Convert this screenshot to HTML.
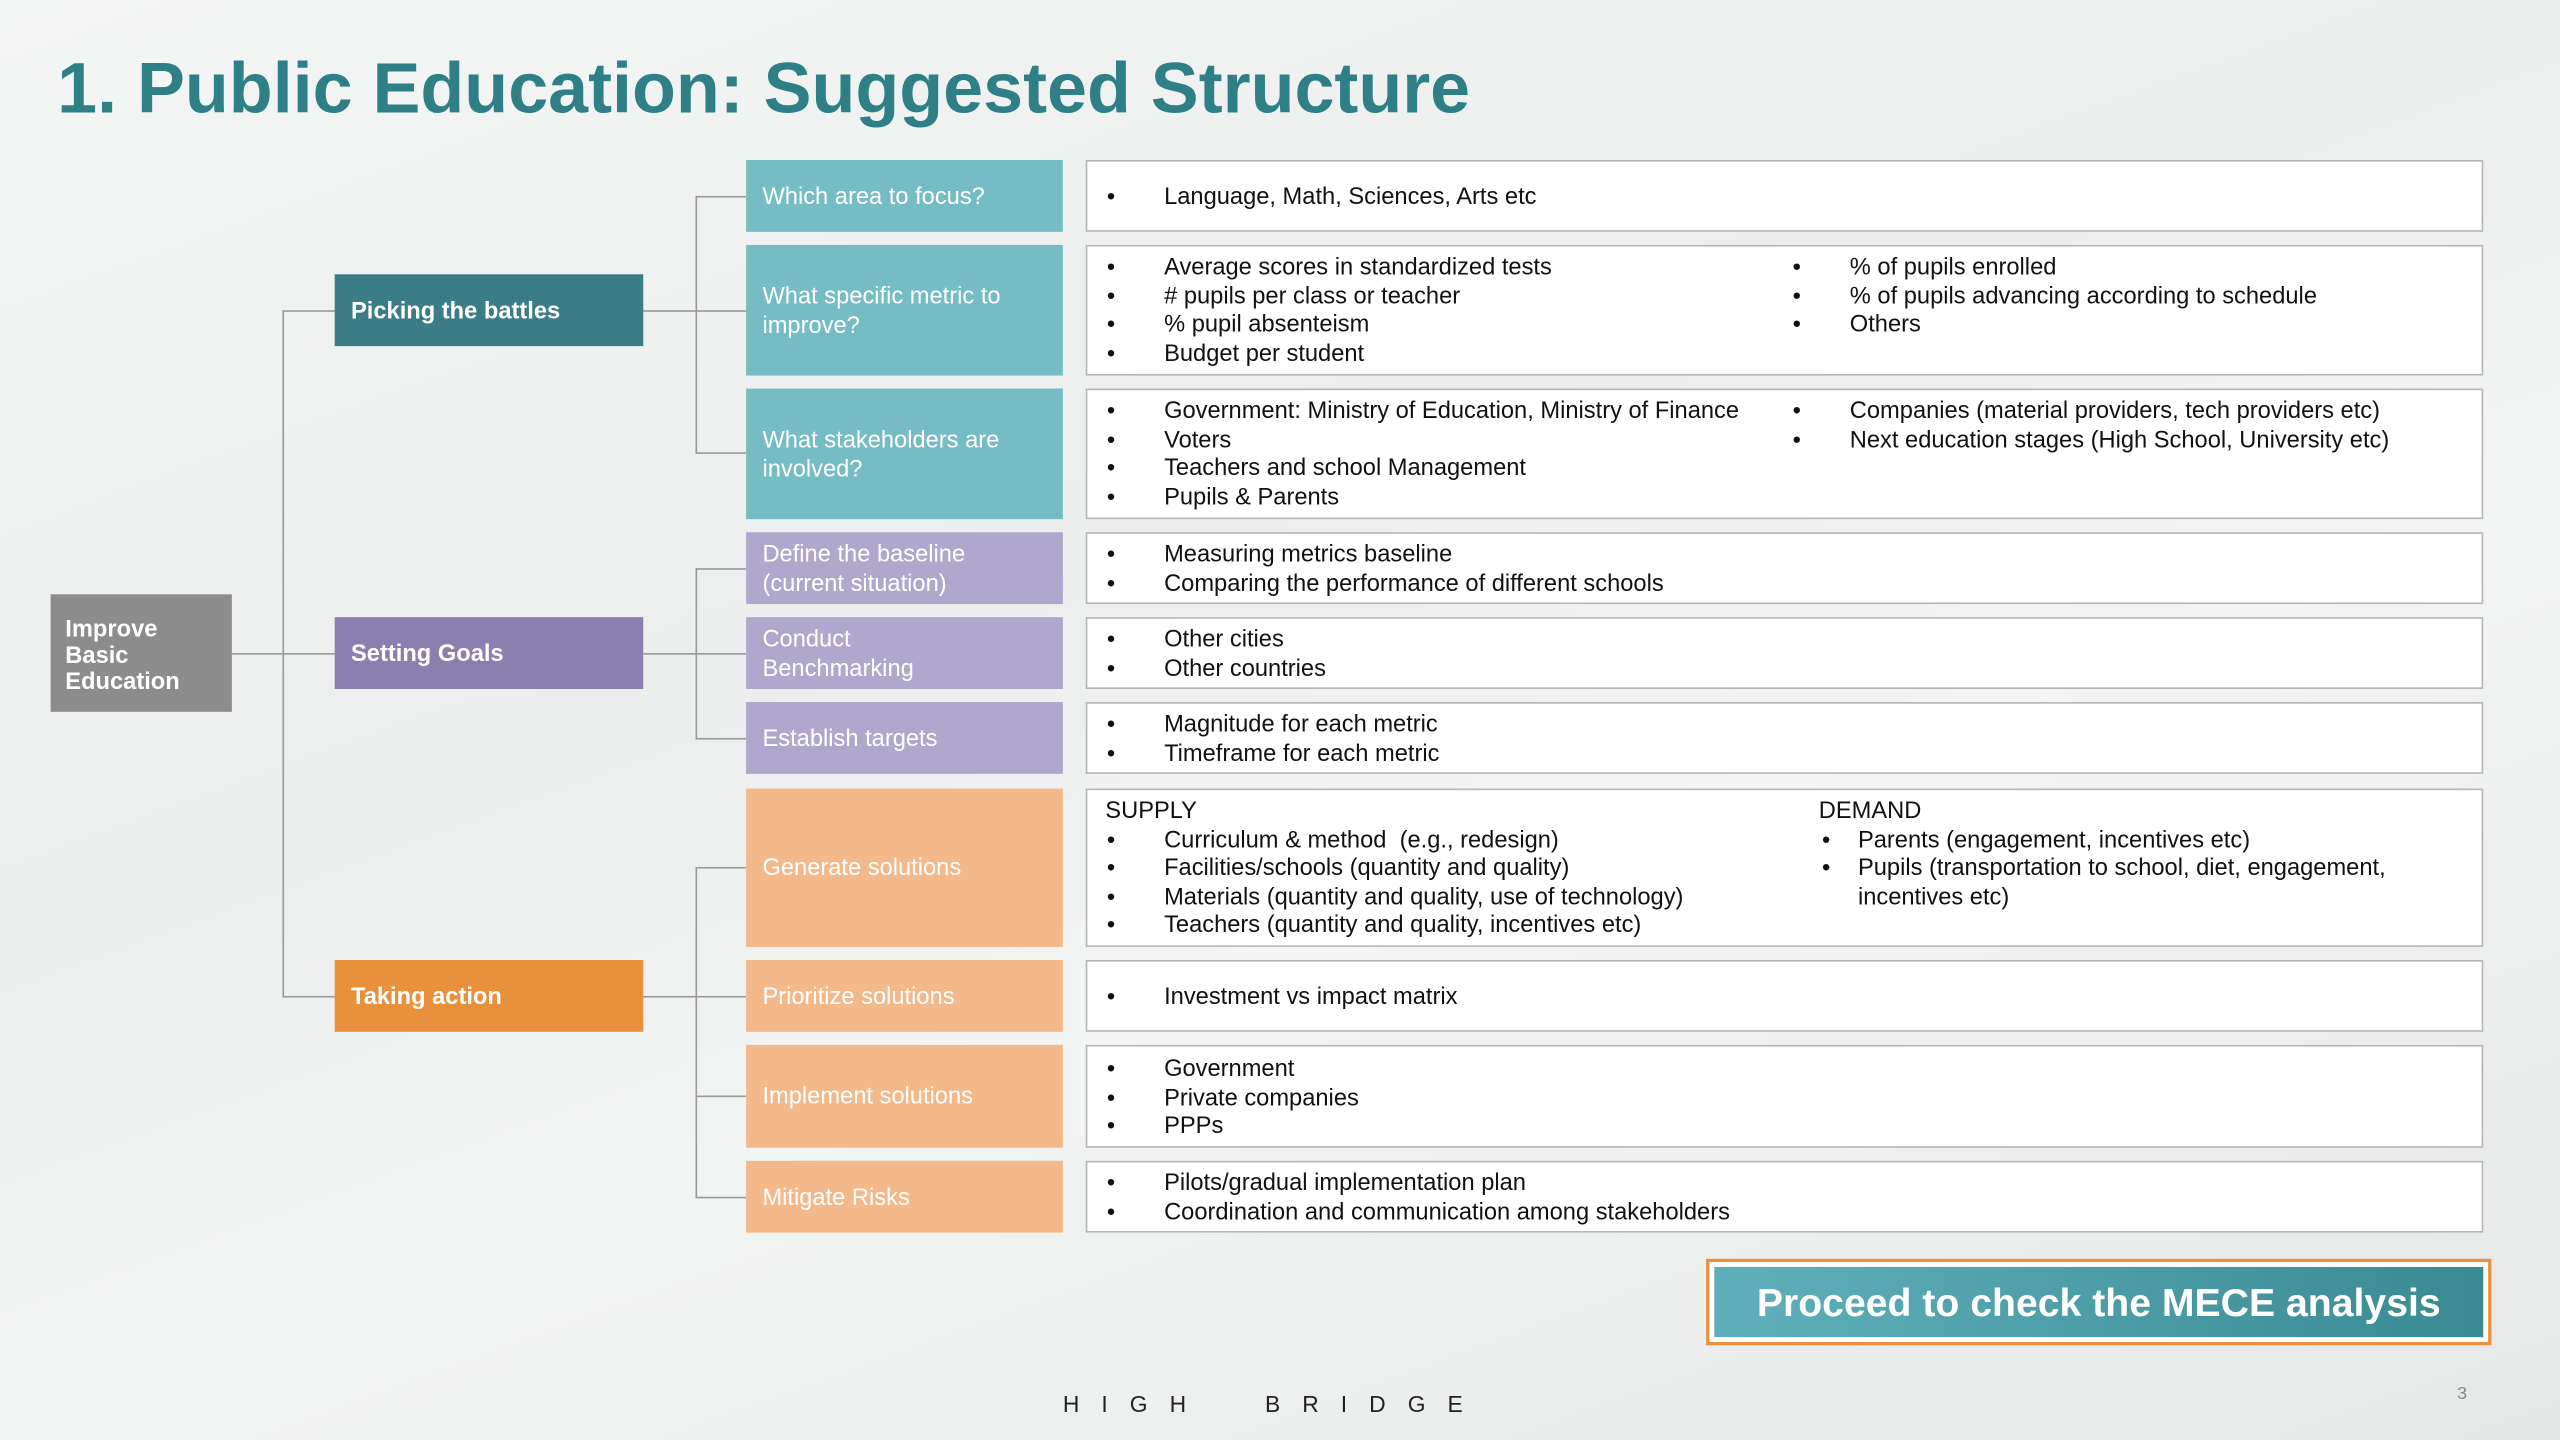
<!DOCTYPE html>
<html><head><meta charset="utf-8"><style>
*{margin:0;padding:0;box-sizing:border-box}
html,body{width:2560px;height:1440px;overflow:hidden}
body{background:linear-gradient(160deg,#f4f5f5 0%,#eceeee 40%,#f3f4f4 60%,#e6e8e8 100%);font-family:"Liberation Sans",sans-serif}
#s{position:absolute;left:0;top:0;width:1568px;height:882px;transform:scale(1.63265);transform-origin:0 0}
.a{position:absolute}
.t{left:35px;top:30px;font-size:44px;font-weight:bold;color:#2e7f86}
.b{position:absolute;color:#fff;font-size:14.5px;display:flex;align-items:center;padding-left:10px;padding-top:3px;line-height:17.5px}
.l1{left:205px;width:189px;height:44px;font-weight:bold}
.l2{left:457px;width:194px}
.c{position:absolute;left:665px;width:856px;background:#fff;border:1px solid #b5b5b5;font-size:14.5px;line-height:17.5px;color:#111;display:flex;align-items:center;padding-top:3px}
.col{position:absolute}
.li{position:relative;padding-left:35px;white-space:nowrap}
.li:before{content:"•";position:absolute;left:0}
.ln{position:absolute;background:#9a9a9a}
.h{height:1px}.v{width:1px}
</style></head><body><div id="s">
<div class="a t">1. Public Education: Suggested Structure</div>

<div class="ln h" style="left:142px;top:400px;width:63px"></div>
<div class="ln v" style="left:173px;top:190px;height:421px"></div>
<div class="ln h" style="left:173px;top:190px;width:32px"></div>
<div class="ln h" style="left:173px;top:610px;width:32px"></div>
<div class="ln h" style="left:394px;top:190px;width:63px"></div>
<div class="ln h" style="left:394px;top:400px;width:63px"></div>
<div class="ln h" style="left:394px;top:610px;width:63px"></div>
<div class="ln v" style="left:426px;top:120px;height:158px"></div>
<div class="ln h" style="left:426px;top:120px;width:31px"></div>
<div class="ln h" style="left:426px;top:277px;width:31px"></div>
<div class="ln v" style="left:426px;top:348px;height:105px"></div>
<div class="ln h" style="left:426px;top:348px;width:31px"></div>
<div class="ln h" style="left:426px;top:452px;width:31px"></div>
<div class="ln v" style="left:426px;top:531px;height:203px"></div>
<div class="ln h" style="left:426px;top:531px;width:31px"></div>
<div class="ln h" style="left:426px;top:671px;width:31px"></div>
<div class="ln h" style="left:426px;top:733px;width:31px"></div>

<div class="b" style="left:31px;top:364px;width:111px;height:72px;background:#8c8c8c;font-weight:bold;padding-left:9px;line-height:16px">Improve<br>Basic<br>Education</div>

<div class="b l1" style="top:168px;background:#3a7d86">Picking the battles</div>
<div class="b l1" style="top:378px;background:#8a7fae">Setting Goals</div>
<div class="b l1" style="top:588px;background:#e8903c">Taking action</div>

<div class="b l2" style="top:98px;height:44px;background:#76bcc5">Which area to focus?</div>
<div class="b l2" style="top:150px;height:80px;background:#76bcc5">What specific metric to<br>improve?</div>
<div class="b l2" style="top:238px;height:80px;background:#76bcc5">What stakeholders are<br>involved?</div>
<div class="b l2" style="top:326px;height:44px;background:#b0a7cc">Define the baseline<br>(current situation)</div>
<div class="b l2" style="top:378px;height:44px;background:#b0a7cc">Conduct<br>Benchmarking</div>
<div class="b l2" style="top:430px;height:44px;background:#b0a7cc">Establish targets</div>
<div class="b l2" style="top:483px;height:97px;background:#f3b98a">Generate solutions</div>
<div class="b l2" style="top:588px;height:44px;background:#f3b98a">Prioritize solutions</div>
<div class="b l2" style="top:640px;height:63px;background:#f3b98a">Implement solutions</div>
<div class="b l2" style="top:711px;height:44px;background:#f3b98a">Mitigate Risks</div>

<div class="c" style="top:98px;height:44px"><div class="col" style="left:12px"><div class="li">Language, Math, Sciences, Arts etc</div></div></div>
<div class="c" style="top:150px;height:80px"><div class="col" style="left:12px;top:5px"><div class="li">Average scores in standardized tests</div><div class="li"># pupils per class or teacher</div><div class="li">% pupil absenteism</div><div class="li">Budget per student</div></div>
<div class="col" style="left:432px;top:5px"><div class="li">% of pupils enrolled</div><div class="li">% of pupils advancing according to schedule</div><div class="li">Others</div></div></div>
<div class="c" style="top:238px;height:80px"><div class="col" style="left:12px;top:5px"><div class="li">Government: Ministry of Education, Ministry of Finance</div><div class="li">Voters</div><div class="li">Teachers and school Management</div><div class="li">Pupils &amp; Parents</div></div>
<div class="col" style="left:432px;top:5px"><div class="li">Companies (material providers, tech providers etc)</div><div class="li">Next education stages (High School, University etc)</div></div></div>
<div class="c" style="top:326px;height:44px"><div class="col" style="left:12px;top:5px"><div class="li">Measuring metrics baseline</div><div class="li">Comparing the performance of different schools</div></div></div>
<div class="c" style="top:378px;height:44px"><div class="col" style="left:12px;top:5px"><div class="li">Other cities</div><div class="li">Other countries</div></div></div>
<div class="c" style="top:430px;height:44px"><div class="col" style="left:12px;top:5px"><div class="li">Magnitude for each metric</div><div class="li">Timeframe for each metric</div></div></div>
<div class="c" style="top:483px;height:97px"><div class="col" style="left:11px;top:5px"><div>SUPPLY</div><div class="li" style="margin-left:1px">Curriculum &amp; method &nbsp;(e.g., redesign)</div><div class="li" style="margin-left:1px">Facilities/schools (quantity and quality)</div><div class="li" style="margin-left:1px">Materials (quantity and quality, use of technology)</div><div class="li" style="margin-left:1px">Teachers (quantity and quality, incentives etc)</div></div>
<div class="col" style="left:448px;top:5px"><div>DEMAND</div><div class="li" style="padding-left:22px;margin-left:2px">Parents (engagement, incentives etc)</div><div class="li" style="padding-left:22px;margin-left:2px">Pupils (transportation to school, diet, engagement,<br>incentives etc)</div></div></div>
<div class="c" style="top:588px;height:44px"><div class="col" style="left:12px"><div class="li">Investment vs impact matrix</div></div></div>
<div class="c" style="top:640px;height:63px"><div class="col" style="left:12px;top:6px"><div class="li">Government</div><div class="li">Private companies</div><div class="li">PPPs</div></div></div>
<div class="c" style="top:711px;height:44px"><div class="col" style="left:12px;top:5px"><div class="li">Pilots/gradual implementation plan</div><div class="li">Coordination and communication among stakeholders</div></div></div>

<div class="a" style="left:1045px;top:771px;width:481px;height:53px;border:2px solid #e8903c;background:#fff"></div>
<div class="a" style="left:1050px;top:776px;width:471px;height:43px;background:linear-gradient(90deg,#5fb0ba,#3a8a92);color:#fff;font-size:24px;font-weight:bold;display:flex;align-items:center;justify-content:center;padding-top:3px">Proceed to check the MECE analysis</div>

<div class="a" style="left:651px;top:852px;font-size:14px;letter-spacing:13.5px;color:#222">HIGH&nbsp;&nbsp;BRIDGE</div>
<div class="a" style="left:1505px;top:848px;font-size:11px;color:#888">3</div>
</div></body></html>
